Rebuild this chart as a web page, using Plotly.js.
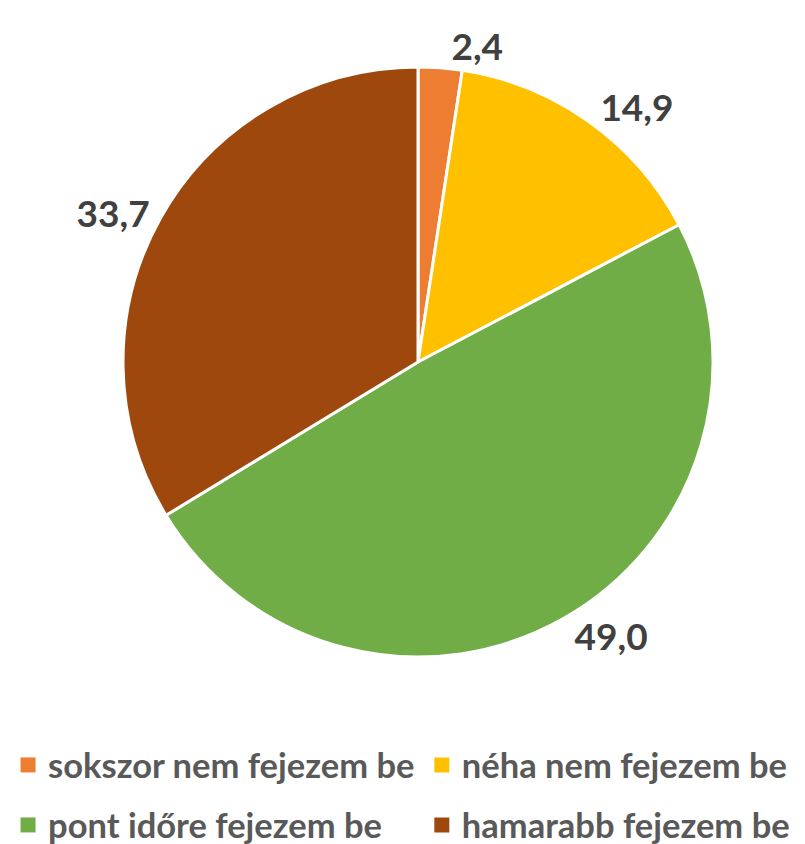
<!DOCTYPE html>
<html><head><meta charset="utf-8">
<script src="https://cdn.plot.ly/plotly-3.0.1.min.js"></script>
<style>body{margin:0;background:#fff}</style>
</head><body>
<div id="chart" style="width:805px;height:844px"></div>
<script>
const categories = ["sokszor nem fejezem be", "néha nem fejezem be", "pont időre fejezem be", "hamarabb fejezem be"];
const values = [2.4, 14.9, 49.0, 33.7];
const colors = ["#ED7D31", "#FFC000", "#70AD47", "#9E480E"];

const FONT = "Lato, 'Open Sans', sans-serif";

const pie = {
  type: "pie",
  labels: categories,
  values: values,
  sort: false,
  direction: "clockwise",
  rotation: 0,
  showlegend: false,
  marker: {colors: colors, line: {color: "#ffffff", width: 3}},
  textposition: "outside",
  texttemplate: "%{value:.1f}",
  textfont: {family: FONT, size: 37, color: "#404040", weight: "bold"},
  hoverinfo: "label+value",
  domain: {x: [0.1528, 0.8857], y: [0.1025, 0.9085]}
};

// legend entries: 2 columns x 2 rows, one legend box per entry
const legendNames = ["legend", "legend2", "legend3", "legend4"];
const legendTraces = categories.map((c, i) => ({
  type: "scatter", mode: "markers",
  x: [null], y: [null],
  name: c,
  marker: {symbol: "square", size: 15, color: colors[i]},
  legend: legendNames[i],
  hoverinfo: "skip"
}));

const legendBase = {
  orientation: "h", xanchor: "left", yanchor: "middle",
  xref: "container", yref: "container",
  font: {family: FONT, size: 34.5, color: "#595959", weight: "bold"},
  bgcolor: "rgba(0,0,0,0)"
};
const colX = [0.01, 0.524];
const rowY = [0.0936, 0.0225];

const layout = {
  width: 805, height: 844,
  margin: {l: 0, r: 0, t: 0, b: 112},
  separators: ",.",
  paper_bgcolor: "#ffffff",
  plot_bgcolor: "#ffffff",
  xaxis: {visible: false},
  yaxis: {visible: false}
};
legendNames.forEach((n, i) => {
  layout[n] = Object.assign({}, legendBase, {x: colX[i % 2], y: rowY[Math.floor(i / 2)]});
});

Plotly.newPlot("chart", [pie].concat(legendTraces), layout, {displayModeBar: false, staticPlot: true});
</script>
</body></html>
